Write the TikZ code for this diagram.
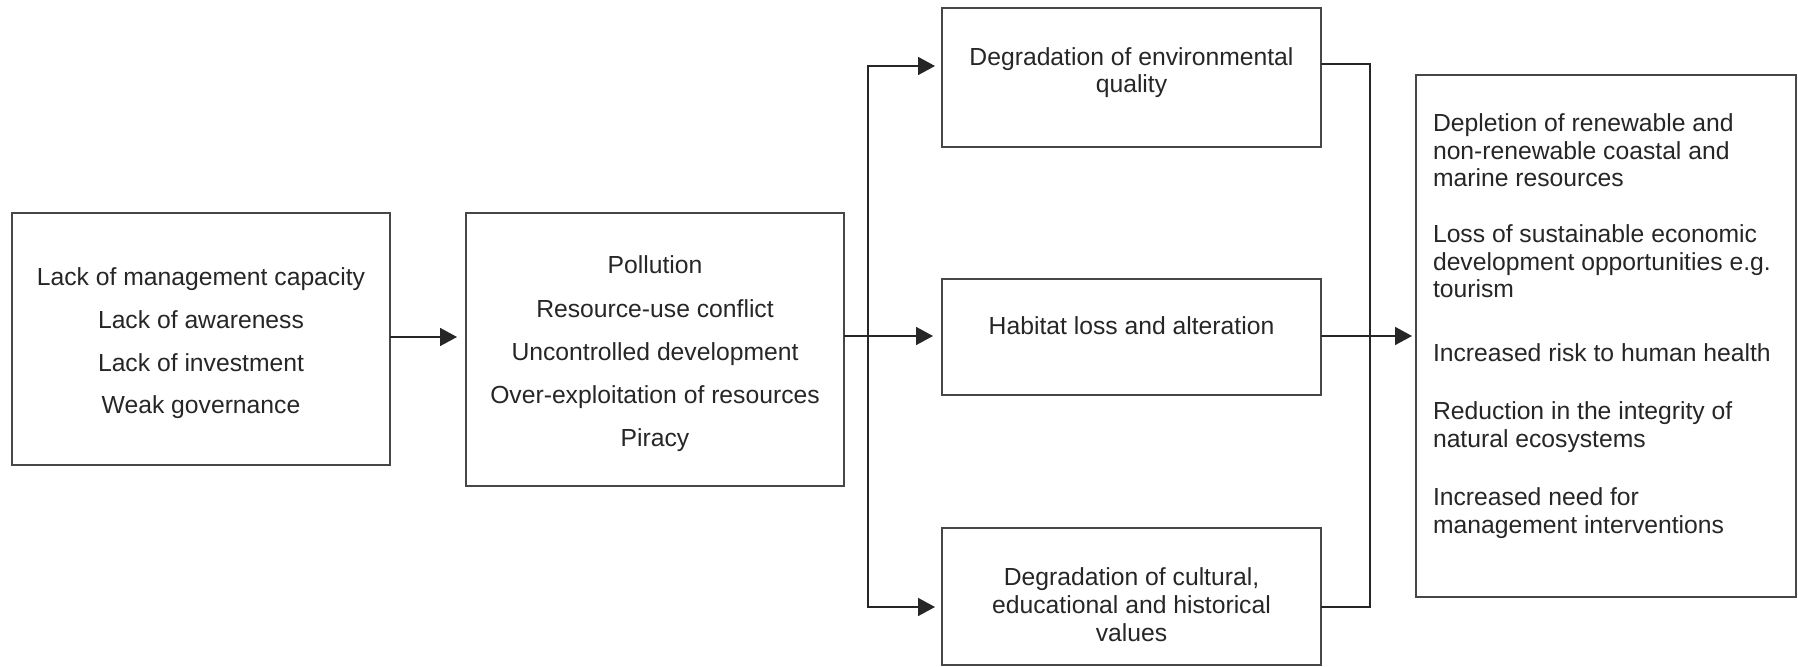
\documentclass[tikz,border=0pt]{standalone}
\usepackage{fontspec}
\setmainfont{Liberation Sans}
\usetikzlibrary{arrows.meta}
\begin{document}
\begin{tikzpicture}[x=0.5pt,y=-0.5pt,
  box/.style={draw=black!72, line width=0.9pt, inner sep=0pt, outer sep=0pt},
  txt/.style={inner sep=0pt, outer sep=0pt, text=black!85, align=center},
  conn/.style={line width=0.9pt, draw=black!85},
  arr/.style={conn, -{Triangle[length=8.5pt,width=9pt]}}]
\useasboundingbox (0,0) rectangle (1798,667);
% boxes
\node[box, minimum width=189pt, minimum height=126pt] (b1) at (201,339) {};
\node[box, minimum width=189pt, minimum height=136.5pt] (b2) at (655,349.5) {};
\node[box, minimum width=189.5pt, minimum height=69.5pt] (top) at (1131.5,77.5) {};
\node[box, minimum width=189.5pt, minimum height=58pt] (mid) at (1131.5,337) {};
\node[box, minimum width=189.5pt, minimum height=68.5pt] (bot) at (1131.5,596.5) {};
\node[box, minimum width=190pt, minimum height=261pt] (res) at (1606,336) {};
% texts
\node[txt, anchor=north, font=\fontsize{12.35pt}{21.33pt}\selectfont] (t1) at (201,268)
  {Lack of management capacity\\Lack of awareness\\Lack of investment\\Weak governance};
\node[txt, anchor=north, font=\fontsize{12.35pt}{21.6pt}\selectfont] (t2) at (655,256)
  {Pollution\\Resource-use conflict\\Uncontrolled development\\Over-exploitation of resources\\Piracy};
\node[txt, anchor=north, font=\fontsize{12.35pt}{13.5pt}\selectfont] (ttop) at (1131.5,47.3)
  {Degradation of environmental\\quality};
\node[txt, anchor=base, font=\fontsize{12.35pt}{13.5pt}\selectfont] (tmid) at (1131.5,335)
  {Habitat loss and alteration};
\node[txt, anchor=north, font=\fontsize{12.35pt}{14pt}\selectfont] (tbot) at (1131.5,568)
  {Degradation of cultural,\\educational and historical\\values};
\node[txt, anchor=north west, align=left, font=\fontsize{12.35pt}{13.75pt}\selectfont] (tres) at (1433,114)
  {Depletion of renewable and\\non-renewable coastal and\\marine resources\\[14.25pt]
   Loss of sustainable economic\\development opportunities e.g.\\tourism\\[18.25pt]
   Increased risk to human health\\[15.25pt]
   Reduction in the integrity of\\natural ecosystems\\[15.5pt]
   Increased need for\\management interventions};
% junctions
\coordinate (jL) at (868,336);
\coordinate (jR) at (1370,336);
% connectors
\draw[arr, shorten >=4.5pt] (b1.east |- 0,337) -- (b2.west |- 0,337);
\draw[conn] (b2.east |- jL) -- (jL);
\draw[arr, shorten >=4.5pt] (jL) -- (mid.west |- jL);
\draw[arr, shorten >=3.5pt] (jL) |- (top.west |- 0,66);
\draw[arr, shorten >=3.5pt] (jL) |- (bot.west |- 0,607);
\draw[conn] (top.east |- 0,64) -| (jR);
\draw[conn] (bot.east |- 0,607) -| (jR);
\draw[conn] (mid.east |- jR) -- (jR);
\draw[arr, shorten >=2pt] (jR) -- (res.west |- jR);
\end{tikzpicture}
\end{document}
